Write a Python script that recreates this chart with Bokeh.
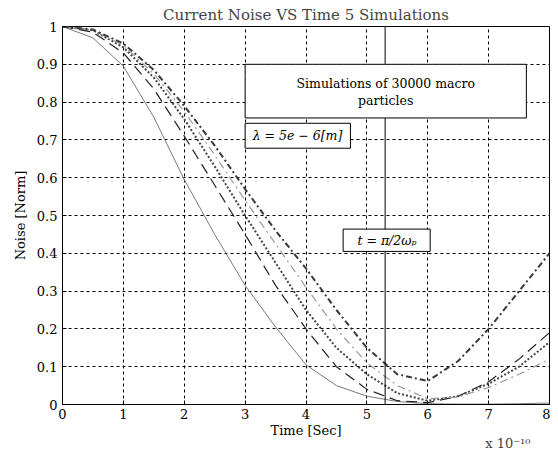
from bokeh.plotting import figure
from bokeh.models import (FixedTicker, NumeralTickFormatter, Span, BoxAnnotation,
                          Label, Range1d, Title)
from bokeh.embed import file_html
from bokeh.resources import INLINE

# ---- data (time in units of 1e-10 s, noise normalised) ----
time = [0, 0.5, 1, 1.5, 2, 2.5, 3, 3.5, 4, 4.5, 5, 5.5, 6, 6.5, 7, 7.5, 8]
sim1 = [1.0, 0.97, 0.895, 0.76, 0.595, 0.45, 0.315, 0.205, 0.105, 0.05, 0.022, 0.008, 0.002, 0.001, 0.001, 0.002, 0.004]
sim2 = [1.0, 0.985, 0.93, 0.835, 0.71, 0.58, 0.45, 0.315, 0.2, 0.1, 0.04, 0.01, 0.005, 0.022, 0.06, 0.12, 0.19]
sim3 = [1.0, 0.99, 0.945, 0.865, 0.755, 0.63, 0.5, 0.375, 0.25, 0.15, 0.08, 0.03, 0.01, 0.022, 0.055, 0.1, 0.165]
sim4 = [1.0, 0.99, 0.95, 0.875, 0.775, 0.66, 0.54, 0.425, 0.31, 0.2, 0.11, 0.05, 0.015, 0.02, 0.045, 0.08, 0.12]
sim5 = [1.0, 0.992, 0.955, 0.885, 0.79, 0.685, 0.57, 0.46, 0.36, 0.25, 0.15, 0.08, 0.062, 0.115, 0.2, 0.3, 0.4]
t_plasma = 5.3
x_ticks = [0, 1, 2, 3, 4, 5, 6, 7, 8]
y_ticks = [0, 0.1, 0.2, 0.3, 0.4, 0.5, 0.6, 0.7, 0.8, 0.9, 1.0]

FONT = "DejaVu Serif"

p = figure(frame_width=487, frame_height=378, output_backend="svg", toolbar_location=None,
           x_range=Range1d(0, 8), y_range=Range1d(0, 1),
           min_border_left=62, min_border_right=1, min_border_top=26, min_border_bottom=50,
           background_fill_color="white", border_fill_color="white")

p.title.text = "Current Noise VS Time 5 Simulations"
p.title.text_font = FONT
p.title.text_font_size = "15px"
p.title.text_font_style = "normal"
p.title.align = "center"
p.title.standoff = 6

p.outline_line_color = "black"
p.outline_line_alpha = 1
p.outline_line_width = 1

for ax in (p.xaxis[0], p.yaxis[0]):
    ax.axis_line_color = "black"
    ax.major_tick_in = 4
    ax.major_tick_out = 0
    ax.minor_tick_line_color = None
    ax.major_label_text_font = FONT
    ax.major_label_text_font_size = "13px"
    ax.major_label_text_color = "black"
    ax.axis_label_text_font = FONT
    ax.axis_label_text_font_size = "13px"
    ax.axis_label_text_font_style = "normal"
    ax.axis_label_text_color = "black"

p.xaxis.ticker = FixedTicker(ticks=x_ticks)
p.yaxis.ticker = FixedTicker(ticks=y_ticks)
p.yaxis.formatter = NumeralTickFormatter(format="0.[0]")
p.xaxis.axis_label = "Time [Sec]"
p.yaxis.axis_label = "Noise [Norm]"
p.xaxis.major_label_standoff = 4
p.xaxis.axis_label_standoff = 1
p.yaxis.major_label_standoff = 5
p.yaxis.axis_label_standoff = 6

for g in (p.xgrid[0], p.ygrid[0]):
    g.grid_line_color = "black"
    g.grid_line_dash = "3 3"
    g.grid_line_width = 1
    g.grid_line_alpha = 1

p.line(time, sim1, line_color="#7a7a7a", line_width=1)
p.line(time, sim2, line_color="#222222", line_width=1.2, line_dash="11 6")
p.line(time, sim3, line_color="#444444", line_width=2, line_dash="2 2")
p.line(time, sim4, line_color="#9a9a9a", line_width=1.2, line_dash="8 4 2 4")
p.line(time, sim5, line_color="#3a3a3a", line_width=2, line_dash="6 3 2 3")

p.add_layout(Span(location=t_plasma, dimension="height", line_color="black", line_width=1))

# annotation boxes
for l, r, t, b in [(3.0, 7.62, 0.9, 0.758), (3.0, 4.73, 0.744, 0.678), (4.61, 6.04, 0.464, 0.405)]:
    p.add_layout(BoxAnnotation(left=l, right=r, top=t, bottom=b,
                               fill_color="white", fill_alpha=1,
                               line_color="black", line_alpha=1, line_width=1))

def lab(x, y, text, size="12.5px", style="normal", align="center"):
    p.add_layout(Label(x=x, y=y, text=text, text_font=FONT, text_font_size=size,
                       text_font_style=style, text_align=align, text_baseline="middle",
                       text_color="black"))

lab(5.31, 0.848, "Simulations of 30000 macro")
lab(5.31, 0.805, "particles")
lab(3.86, 0.711, "λ = 5e − 6[m]", style="italic")
lab(5.33, 0.435, "t = π/2ωₚ", style="italic")

# exponent of the time axis
exp_title = Title(text="x 10⁻¹⁰", align="right", text_font=FONT, text_font_size="13px",
                  text_font_style="normal", standoff=-13, offset=19)
p.add_layout(exp_title, "below")

open("out.html", "w").write(file_html(p, INLINE))
